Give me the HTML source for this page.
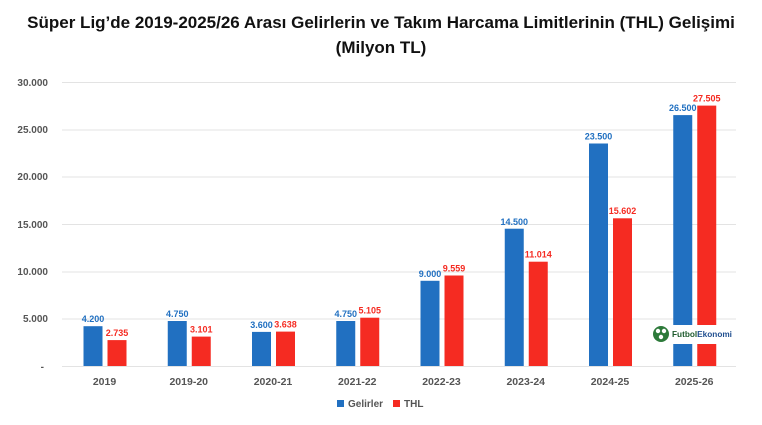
<!DOCTYPE html>
<html><head><meta charset="utf-8"><style>
body{margin:0;background:#fff;}
svg text{font-family:"Liberation Sans",sans-serif;}
</style></head><body>
<svg width="762" height="420" xmlns="http://www.w3.org/2000/svg">
<text x="381" y="28" text-anchor="middle" font-size="17" font-weight="bold" fill="#111">Süper Lig’de 2019-2025/26 Arası Gelirlerin ve Takım Harcama Limitlerinin (THL) Gelişimi</text>
<text x="381" y="53" text-anchor="middle" font-size="17" font-weight="bold" fill="#111">(Milyon TL)</text>
<g stroke="#e3e3e3" stroke-width="1">
<line x1="62" x2="736" y1="82.5" y2="82.5"/><line x1="62" x2="736" y1="130" y2="130"/>
<line x1="62" x2="736" y1="177" y2="177"/><line x1="62" x2="736" y1="224.5" y2="224.5"/>
<line x1="62" x2="736" y1="272" y2="272"/><line x1="62" x2="736" y1="319" y2="319"/>
<line x1="62" x2="736" y1="366.5" y2="366.5"/>
</g>
<g font-size="10" font-weight="bold" fill="#555" text-anchor="end">
<text x="48" y="86">30.000</text><text x="48" y="133">25.000</text><text x="48" y="180">20.000</text>
<text x="48" y="228">15.000</text><text x="48" y="275">10.000</text><text x="48" y="322">5.000</text>
<text x="44" y="370">-</text>
</g>
<g fill="#2170c1">
<rect x="83.5" y="326.2" width="19" height="39.8"/>
<rect x="167.75" y="321" width="19" height="45"/>
<rect x="252" y="331.9" width="19" height="34.1"/>
<rect x="336.25" y="321" width="19" height="45"/>
<rect x="420.5" y="280.8" width="19" height="85.2"/>
<rect x="504.75" y="228.7" width="19" height="137.3"/>
<rect x="589" y="143.5" width="19" height="222.5"/>
<rect x="673.25" y="115.1" width="19" height="250.9"/>
</g>
<g fill="#f52b22">
<rect x="107.5" y="340.1" width="19" height="25.9"/>
<rect x="191.75" y="336.6" width="19" height="29.4"/>
<rect x="276" y="331.6" width="19" height="34.4"/>
<rect x="360.25" y="317.7" width="19" height="48.3"/>
<rect x="444.5" y="275.5" width="19" height="90.5"/>
<rect x="528.75" y="261.7" width="19" height="104.3"/>
<rect x="613" y="218.3" width="19" height="147.7"/>
<rect x="697.25" y="105.6" width="19" height="260.4"/>
</g>
<g font-size="9" font-weight="bold" fill="#2170c1" text-anchor="middle">
<text x="93" y="322">4.200</text>
<text x="177.25" y="317">4.750</text>
<text x="261.5" y="328">3.600</text>
<text x="345.75" y="317">4.750</text>
<text x="430" y="277">9.000</text>
<text x="514.25" y="225">14.500</text>
<text x="598.5" y="139.5">23.500</text>
<text x="682.75" y="111">26.500</text>
</g>
<g font-size="9" font-weight="bold" fill="#f52b22" text-anchor="middle">
<text x="117" y="336">2.735</text>
<text x="201.25" y="332.5">3.101</text>
<text x="285.5" y="327.5">3.638</text>
<text x="369.75" y="313.5">5.105</text>
<text x="454" y="271.5">9.559</text>
<text x="538.25" y="257.5">11.014</text>
<text x="622.5" y="214">15.602</text>
<text x="706.75" y="101.5">27.505</text>
</g>
<g font-size="10.5" font-weight="bold" fill="#555" text-anchor="middle">
<text x="104.5" y="385">2019</text>
<text x="188.75" y="385">2019-20</text>
<text x="273" y="385">2020-21</text>
<text x="357.25" y="385">2021-22</text>
<text x="441.5" y="385">2022-23</text>
<text x="525.75" y="385">2023-24</text>
<text x="610" y="385">2024-25</text>
<text x="694.25" y="385">2025-26</text>
</g>
<rect x="670" y="325" width="50" height="19" fill="#fff"/>
<circle cx="661" cy="334" r="8" fill="#2d7a3a"/>
<circle cx="658" cy="331" r="2.2" fill="#fff"/><circle cx="664" cy="331" r="2.2" fill="#fff"/><circle cx="661" cy="337" r="2.2" fill="#fff"/>
<text x="672" y="337" font-size="8.5" font-weight="bold" fill="#1d5a2c" textLength="60" lengthAdjust="spacingAndGlyphs">Futbol<tspan fill="#1f4e8f">Ekonomi</tspan></text>
<rect x="337" y="400" width="7" height="7" fill="#2170c1"/>
<text x="348" y="407" font-size="10" font-weight="bold" fill="#555">Gelirler</text>
<rect x="393" y="400" width="7" height="7" fill="#f52b22"/>
<text x="404" y="407" font-size="10" font-weight="bold" fill="#555">THL</text>
</svg>
</body></html>
